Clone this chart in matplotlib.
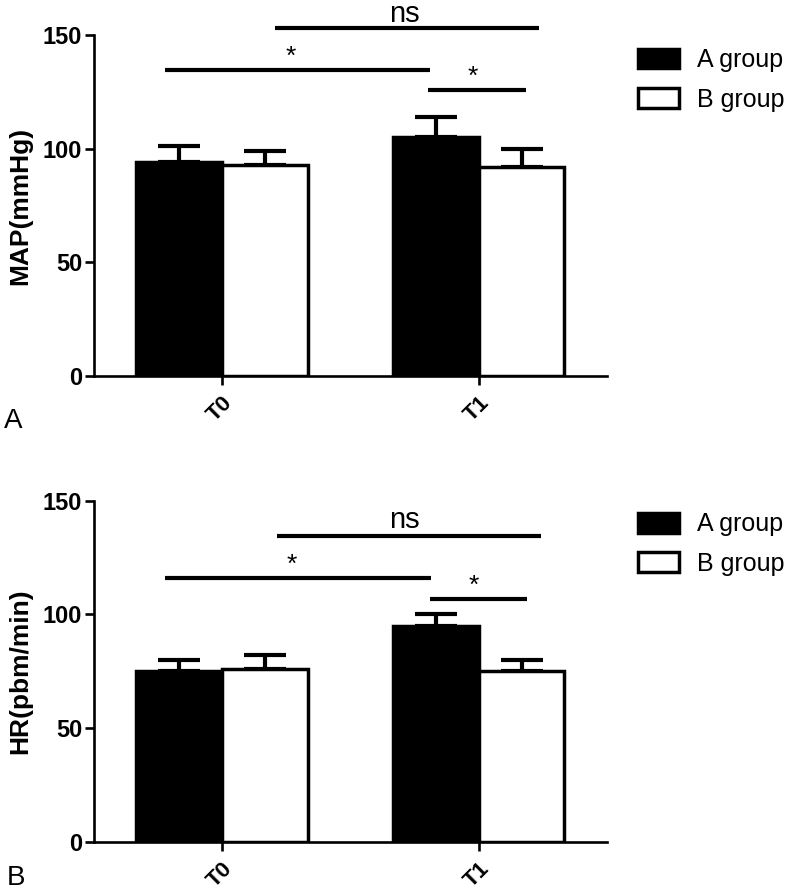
import numpy as np
import matplotlib
matplotlib.use('Agg')
import matplotlib.pyplot as plt
from matplotlib.patches import Patch

plt.rcParams['font.family'] = ['Liberation Sans', 'DejaVu Sans']

times = ['T0', 'T1']
groups = ['A group', 'B group']

map_a = [94, 105]
map_a_sd = [7, 9]
map_b = [93, 92]
map_b_sd = [6, 8]

hr_a = [75, 95]
hr_a_sd = [5, 5]
hr_b = [76, 75]
hr_b_sd = [6, 5]

# significance brackets: (x0, x1, y, label, label_x, label_y)
map_sig = [(0.207, 1.237, 153.2, 'ns', 0.71, 155.6),
           (-0.225, 0.812, 134.8, '*', 0.267, 137.5),
           (0.801, 1.185, 125.7, '*', 0.978, 128.5)]
hr_sig = [(0.212, 1.242, 134.3, 'ns', 0.71, 137.8),
          (-0.225, 0.816, 116.0, '*', 0.272, 118.7),
          (0.809, 1.19, 106.7, '*', 0.98, 109.4)]

bar_w = 0.335
lw = 2.5


def panel(ax, a, a_sd, b, b_sd, sig, ylabel):
    x = np.arange(len(times))
    for xs, vals, sd, fc in [(x - bar_w / 2, a, a_sd, 'black'),
                             (x + bar_w / 2, b, b_sd, 'white')]:
        ax.errorbar(xs, vals, yerr=[np.zeros(len(sd)), sd], fmt='none',
                    ecolor='black', elinewidth=3, capsize=15,
                    capthick=3, zorder=1)
        ax.bar(xs, vals, width=bar_w, color=fc, edgecolor='black',
               linewidth=lw, zorder=2)
    for x0, x1, y, lab, lx, ly in sig:
        ax.plot([x0, x1], [y, y], color='black', lw=3, clip_on=False,
                solid_capstyle='butt')
        fs = 21 if lab == 'ns' else 19
        ax.text(lx, ly, lab, ha='center', va='baseline', fontsize=fs,
                clip_on=False)
    ax.set_xlim(-0.5, 1.5)
    ax.set_ylim(0, 150)
    ax.set_yticks([0, 50, 100, 150])
    ax.set_xticks(x)
    ax.set_xticklabels(times, rotation=45, ha='right',
                       rotation_mode='anchor', fontweight='bold', fontsize=16)
    for t in ax.get_yticklabels():
        t.set_fontweight('bold')
        t.set_fontsize(17)
    ax.spines['top'].set_visible(False)
    ax.spines['right'].set_visible(False)
    ax.spines['left'].set_linewidth(1.9)
    ax.spines['bottom'].set_linewidth(1.9)
    ax.tick_params(axis='y', length=6.5, width=1.9, direction='out', pad=2)
    ax.tick_params(axis='x', length=6.5, width=1.9, direction='out', pad=5)
    ax.set_ylabel(ylabel, fontweight='bold', fontsize=19)
    ax.yaxis.set_label_coords(-0.12, 0.5)


fig = plt.figure(figsize=(8, 8.91), dpi=100)
ax1 = fig.add_axes([0.1175, 0.578, 0.641, 0.3827])
ax2 = fig.add_axes([0.1175, 0.055, 0.641, 0.383])

panel(ax1, map_a, map_a_sd, map_b, map_b_sd, map_sig, 'MAP(mmHg)')
panel(ax2, hr_a, hr_a_sd, hr_b, hr_b_sd, hr_sig, 'HR(pbm/min)')

handles = [Patch(facecolor='black', edgecolor='black', linewidth=2.5,
                 joinstyle='round'),
           Patch(facecolor='white', edgecolor='black', linewidth=2.5,
                 joinstyle='round')]
for yy in [0.946, 0.425]:
    fig.legend(handles, groups, loc='upper left', bbox_to_anchor=(0.797, yy),
               frameon=False, fontsize=18, handlelength=1.64,
               handleheight=0.84, handletextpad=0.75, labelspacing=0.62,
               borderpad=0, borderaxespad=0)

fig.text(4 / 800, 1 - 428 / 891, 'A', fontsize=20, va='baseline')
fig.text(7 / 800, 1 - 885 / 891, 'B', fontsize=20, va='baseline')

fig.savefig('out.png', dpi=100)
